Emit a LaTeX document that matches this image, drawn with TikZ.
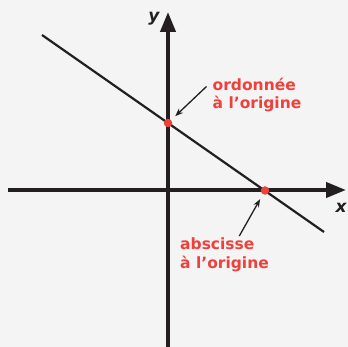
\documentclass[tikz,border=0pt]{standalone}
\usepackage{fontspec}
\setmainfont{DejaVu Sans}
\usetikzlibrary{arrows.meta}
\definecolor{axisgray}{RGB}{35,31,32}
\definecolor{labelred}{RGB}{239,65,60}
\definecolor{bggray}{RGB}{244,244,244}
\begin{document}
\begin{tikzpicture}[x=1pt, y=-1pt,
        axis/.style={line width=4pt, axisgray, -{Triangle[length=20pt,width=15pt]}},
        dot/.style={circle, fill=labelred, inner sep=0pt, minimum size=8.5pt},
        note/.style={labelred, font=\fontsize{15.5}{17.6}\selectfont\bfseries, align=left, anchor=base west, inner sep=0pt},
        axislabel/.style={axisgray, font=\fontsize{17}{17}\selectfont\bfseries\itshape, inner sep=0pt},
        pointer/.style={line width=1.3pt, axisgray, -{Stealth[length=8pt,width=6pt]}, shorten >=5.5pt}]
    \fill[bggray] (0,0) rectangle (348,347);
    \useasboundingbox (0,0) rectangle (348,347);
    % axes
    \draw[axis] (8,190) -- (346,190);
    \draw[axis] (168,347) -- (168,12);
    \node[axislabel] (xlabel) at (341,207.5) {x};
    \node[axislabel] (ylabel) at (154,19) {y};
    % the line and its two intercepts
    \draw[line width=2.2pt, axisgray] (42,35) -- (324,232);
    \node[dot] (yint) at (168,123) {};
    \node[dot] (xint) at (265,190.5) {};
    \node[note] (ordlabel) at (212.5,108.5) {ordonnée\\à l’origine};
    \node[note] (abslabel) at (180,269) {abscisse\\[2pt]à l’origine};
    \coordinate (ordstart) at (206.5,86.5);
    \coordinate (absstart) at (239.3,236);
    \draw[pointer] (ordstart) -- (yint);
    \draw[pointer] (absstart) -- (xint);
\end{tikzpicture}
\end{document}
